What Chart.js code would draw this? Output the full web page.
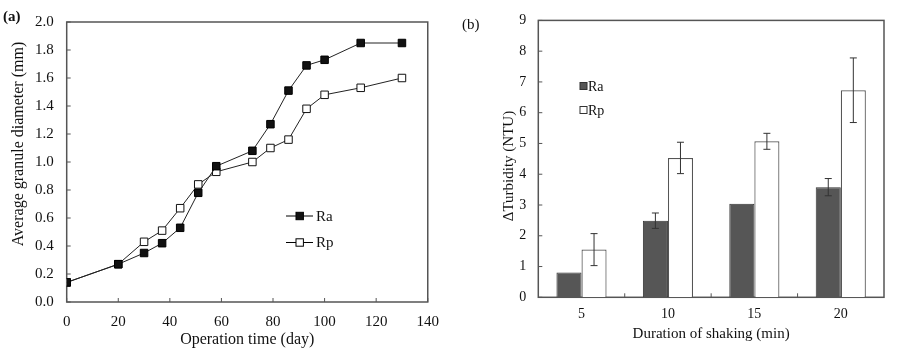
<!DOCTYPE html>
<html lang="en">
<head>
<meta charset="UTF-8">
<title>Granule diameter and turbidity</title>
<script src="https://cdn.jsdelivr.net/npm/chart.js"></script>
<style>
  body { margin: 0; background: #fff; }
  .wrap { position: relative; width: 900px; height: 351px; }
  .panel { position: absolute; top: 0; width: 450px; height: 351px; }
  #pa { left: 0; }
  #pb { left: 450px; }
</style>
</head>
<body>
<div class="wrap">
  <div class="panel" id="pa"><canvas id="chartA" width="450" height="351"></canvas></div>
  <div class="panel" id="pb"><canvas id="chartB" width="450" height="351"></canvas></div>
</div>
<script>
// (a) granule diameter over time
const days = [0, 20, 30, 37, 44, 51, 58, 72, 79, 86, 93, 100, 114, 130];
const raDiameter = [0.14, 0.27, 0.35, 0.42, 0.53, 0.78, 0.97, 1.08, 1.27, 1.51, 1.69, 1.73, 1.85, 1.85];
const rpDiameter = [0.14, 0.27, 0.43, 0.51, 0.67, 0.84, 0.93, 1.00, 1.10, 1.16, 1.38, 1.48, 1.53, 1.60];

// (b) turbidity after shaking
const shakeMinutes = ['5', '10', '15', '20'];
const raTurbidity = [0.81, 2.49, 3.04, 3.58];
const raError = [0, 0.25, 0, 0.28];
const rpTurbidity = [1.55, 4.53, 5.07, 6.73];
const rpError = [0.52, 0.51, 0.26, 1.05];

const serif = "'Liberation Serif', 'Times New Roman', serif";
Chart.defaults.font.family = serif;
Chart.defaults.color = '#111';
Chart.defaults.animation = false;

// box around the plot area, small inward ticks, panel tag and y title
const framePlugin = {
  id: 'frame',
  beforeDatasetsDraw(chart, args, opts) {
    const { ctx, chartArea: a, scales } = chart;
    ctx.save();
    ctx.strokeStyle = '#555';
    ctx.lineWidth = 1.5;
    ctx.strokeRect(a.left, a.top, a.right - a.left, a.bottom - a.top);
    ctx.lineWidth = 1;
    ctx.beginPath();
    scales.y.ticks.forEach((t, i) => {
      const py = scales.y.getPixelForTick(i);
      ctx.moveTo(a.left, py);
      ctx.lineTo(a.left + 4, py);
    });
    if (opts.between) {
      for (let i = 0; i < scales.x.ticks.length - 1; i++) {
        const px = (scales.x.getPixelForValue(i) + scales.x.getPixelForValue(i + 1)) / 2;
        ctx.moveTo(px, a.bottom);
        ctx.lineTo(px, a.bottom - 4);
      }
    } else {
      scales.x.ticks.forEach((t, i) => {
        const px = scales.x.getPixelForTick(i);
        ctx.moveTo(px, a.bottom);
        ctx.lineTo(px, a.bottom - 4);
      });
    }
    ctx.stroke();
    ctx.restore();
  },
  afterDraw(chart, args, opts) {
    const ctx = chart.ctx;
    ctx.save();
    ctx.fillStyle = '#111';
    ctx.textBaseline = 'middle';
    ctx.textAlign = 'left';
    ctx.font = (opts.bold ? 'bold ' : '') + '15px ' + serif;
    ctx.fillText(opts.tag, opts.tagX, opts.tagY);
    // y axis title
    ctx.translate(opts.titleX, opts.titleY);
    ctx.rotate(-Math.PI / 2);
    ctx.textAlign = 'center';
    ctx.font = opts.titleSize + 'px ' + serif;
    ctx.fillText(opts.title, 0, 0);
    ctx.restore();
  }
};

// legend for (a): line with marker
const lineLegend = {
  id: 'lineLegend',
  afterDraw(chart) {
    const ctx = chart.ctx;
    ctx.save();
    ctx.font = '15px ' + serif;
    ctx.textBaseline = 'middle';
    chart.data.datasets.forEach((ds, i) => {
      const y = 216 + i * 26.5;
      ctx.strokeStyle = '#000';
      ctx.lineWidth = 1;
      ctx.beginPath();
      ctx.moveTo(286, y);
      ctx.lineTo(313, y);
      ctx.stroke();
      ctx.fillStyle = ds.pointBackgroundColor;
      ctx.fillRect(296, y - 3.7, 7.4, 7.4);
      ctx.strokeRect(296, y - 3.7, 7.4, 7.4);
      ctx.fillStyle = '#111';
      ctx.fillText(ds.label, 316, y + 1);
    });
    ctx.restore();
  }
};

// legend for (b): small boxes
const boxLegend = {
  id: 'boxLegend',
  afterDraw(chart) {
    const ctx = chart.ctx;
    ctx.save();
    ctx.font = '14px ' + serif;
    ctx.textBaseline = 'middle';
    chart.data.datasets.forEach((ds, i) => {
      const y = 86 + i * 24;
      ctx.fillStyle = ds.backgroundColor;
      ctx.strokeStyle = '#333';
      ctx.lineWidth = 1;
      ctx.fillRect(130, y - 3.5, 7, 7);
      ctx.strokeRect(130, y - 3.5, 7, 7);
      ctx.fillStyle = '#111';
      ctx.fillText(ds.label, 138, y + 1);
    });
    ctx.restore();
  }
};

// error bars drawn from the y scale
const errorBars = {
  id: 'errorBars',
  afterDatasetsDraw(chart) {
    const { ctx, scales } = chart;
    ctx.save();
    ctx.strokeStyle = '#333';
    ctx.lineWidth = 1;
    chart.data.datasets.forEach((ds, di) => {
      if (!ds.errors) return;
      chart.getDatasetMeta(di).data.forEach((bar, i) => {
        const err = ds.errors[i];
        if (!err) return;
        const v = ds.data[i];
        const top = scales.y.getPixelForValue(v + err);
        const bot = scales.y.getPixelForValue(v - err);
        ctx.beginPath();
        ctx.moveTo(bar.x, top); ctx.lineTo(bar.x, bot);
        ctx.moveTo(bar.x - 3.5, top); ctx.lineTo(bar.x + 3.5, top);
        ctx.moveTo(bar.x - 3.5, bot); ctx.lineTo(bar.x + 3.5, bot);
        ctx.stroke();
      });
    });
    ctx.restore();
  }
};

new Chart(document.getElementById('chartA'), {
  type: 'line',
  data: {
    datasets: [
      {
        label: 'Ra',
        data: days.map((d, i) => ({ x: d, y: raDiameter[i] })),
        borderColor: '#222',
        borderWidth: 1,
        pointStyle: 'rect',
        pointRadius: 5.3,
        pointBackgroundColor: '#111',
        pointBorderColor: '#000',
        pointBorderWidth: 1
      },
      {
        label: 'Rp',
        data: days.map((d, i) => ({ x: d, y: rpDiameter[i] })),
        borderColor: '#222',
        borderWidth: 1,
        pointStyle: 'rect',
        pointRadius: 5.3,
        pointBackgroundColor: '#fff',
        pointBorderColor: '#111',
        pointBorderWidth: 1
      }
    ]
  },
  options: {
    responsive: false,
    layout: { padding: { top: 19, right: 13, left: 0, bottom: 0 } },
    plugins: {
      legend: { display: false },
      tooltip: { enabled: false },
      frame: {
        between: false, tag: '(a)', tagX: 3, tagY: 17, bold: true,
        title: 'Average granule diameter (mm)', titleX: 19, titleY: 144, titleSize: 16
      }
    },
    scales: {
      x: {
        type: 'linear',
        min: 0, max: 140,
        grid: { display: false, drawTicks: false },
        border: { display: false },
        ticks: { stepSize: 20, autoSkip: false, padding: 11, maxRotation: 0, font: { size: 15 } },
        title: { display: true, text: 'Operation time (day)', font: { size: 16 }, padding: { top: 0, bottom: 2 } },
        afterFit(scale) { scale.height = 49; }
      },
      y: {
        min: 0, max: 2,
        grid: { display: false, drawTicks: false },
        border: { display: false },
        ticks: { stepSize: 0.2, autoSkip: false, padding: 13, font: { size: 15 }, callback: v => v.toFixed(1) },
        afterFit(scale) { scale.width = 66.7; }
      }
    }
  },
  plugins: [framePlugin, lineLegend]
});

new Chart(document.getElementById('chartB'), {
  type: 'bar',
  data: {
    labels: shakeMinutes,
    datasets: [
      {
        label: 'Ra',
        data: raTurbidity,
        errors: raError,
        backgroundColor: '#565656',
        borderColor: '#333',
        borderWidth: 1,
        categoryPercentage: 0.58,
        barPercentage: 1
      },
      {
        label: 'Rp',
        data: rpTurbidity,
        errors: rpError,
        backgroundColor: '#fff',
        borderColor: '#555',
        borderWidth: 1.2,
        categoryPercentage: 0.58,
        barPercentage: 1
      }
    ]
  },
  options: {
    responsive: false,
    layout: { padding: { top: 19, right: 16, left: 0, bottom: 0 } },
    plugins: {
      legend: { display: false },
      tooltip: { enabled: false },
      frame: {
        between: true, tag: '(b)', tagX: 12, tagY: 25, bold: false,
        title: '\u0394Turbidity (NTU)', titleX: 59, titleY: 166, titleSize: 15
      }
    },
    scales: {
      x: {
        offset: true,
        grid: { display: false, drawTicks: false, offset: true },
        border: { display: false },
        ticks: { padding: 9, maxRotation: 0, font: { size: 14 } },
        title: { display: true, text: 'Duration of shaking (min)', font: { size: 15 }, padding: { top: 0, bottom: 8 } },
        afterFit(scale) { scale.height = 53.7; }
      },
      y: {
        min: 0, max: 9,
        grid: { display: false, drawTicks: false },
        border: { display: false },
        ticks: { stepSize: 1, autoSkip: false, padding: 12, font: { size: 14 } },
        afterFit(scale) { scale.width = 88.3; }
      }
    }
  },
  plugins: [framePlugin, boxLegend, errorBars]
});
</script>
</body>
</html>
